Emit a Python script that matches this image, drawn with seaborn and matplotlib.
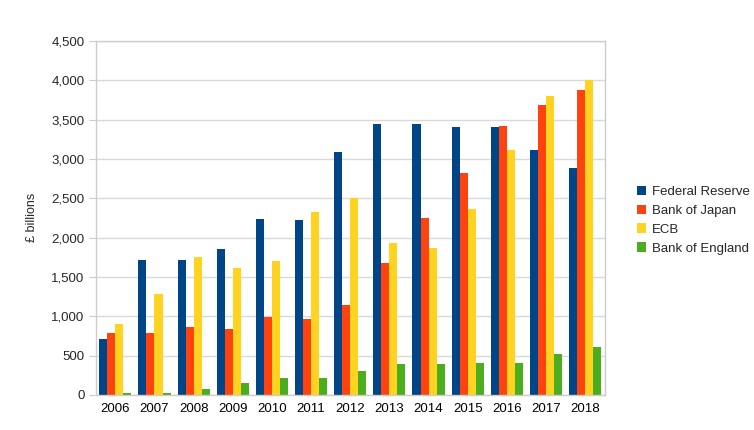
import matplotlib
matplotlib.use('AGG')
import matplotlib.pyplot as plt
import matplotlib.ticker as mticker
import pandas as pd
import seaborn as sns

years = ['2006', '2007', '2008', '2009', '2010', '2011', '2012',
         '2013', '2014', '2015', '2016', '2017', '2018']
fed = [710, 1710, 1710, 1850, 2240, 2230, 3090, 3450, 3440, 3410, 3410, 3120, 2880]
boj = [790, 790, 860, 840, 990, 970, 1150, 1680, 2250, 2820, 3420, 3680, 3880]
ecb = [900, 1280, 1760, 1620, 1700, 2320, 2510, 1930, 1870, 2360, 3110, 3800, 4000]
boe = [20, 30, 70, 150, 220, 220, 310, 400, 400, 410, 410, 520, 610]
banks = ['Federal Reserve', 'Bank of Japan', 'ECB', 'Bank of England']
colors = ['#004586', '#ff420e', '#ffd320', '#4aae1f']

rows = []
for bank, vals in zip(banks, [fed, boj, ecb, boe]):
    for y, v in zip(years, vals):
        rows.append({'Year': y, 'Bank': bank, 'Value': v})
data = pd.DataFrame(rows)

sns.set_style("white")
plt.rcParams['font.family'] = ['Liberation Sans', 'DejaVu Sans']

fig = plt.figure(figsize=(7.54, 4.30), dpi=100)
ax = fig.add_axes([0.127, 0.0814, 0.675, 0.8233])

sns.barplot(x='Year', y='Value', hue='Bank', data=data, palette=colors,
            width=0.82, gap=0, saturation=1, linewidth=0, ax=ax, legend=True)

ax.set_ylim(0, 4500)
ax.set_xlim(-0.5, len(years) - 0.5)
ax.yaxis.set_major_locator(mticker.MultipleLocator(500))
ax.yaxis.set_major_formatter(mticker.FuncFormatter(lambda x, p: f'{int(x):,}'))
ax.yaxis.grid(True, color='#d9d9d9', linewidth=1)
ax.set_axisbelow(True)
for s in ax.spines.values():
    s.set_color('#cccccc')
    s.set_linewidth(1)

ax.set_xticks(range(len(years)))
ax.set_xticklabels(years)
ax.set_xticks([i - 0.5 for i in range(len(years) + 1)], minor=True)
ax.tick_params(axis='x', which='major', length=0, pad=6, labelsize=9.5, colors='black')
ax.tick_params(axis='x', which='minor', length=5, color='#cccccc', direction='out')
ax.tick_params(axis='y', length=5, color='#cccccc', direction='out', labelsize=9.5,
               left=True, pad=3)
ax.set_xlabel('')
ax.set_ylabel('')
fig.text(0.042, 0.495, '£ billions', rotation=90, ha='center', va='center', fontsize=9)

handles, labels = ax.get_legend_handles_labels()
ax.legend_.remove()
fig.legend(handles, labels, loc='center left', bbox_to_anchor=(0.838, 0.488),
           frameon=False, fontsize=9.5, handlelength=0.7, handleheight=0.7,
           handletextpad=0.4, labelspacing=0.5, borderaxespad=0)

plt.savefig('out.png', dpi=100)
